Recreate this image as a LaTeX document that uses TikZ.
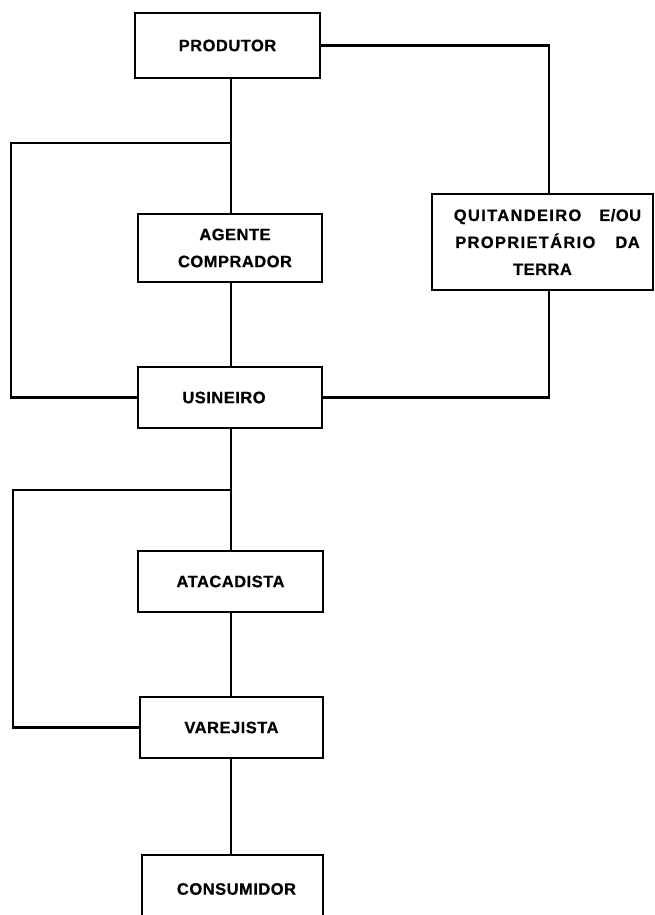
\documentclass[tikz,border=0pt]{standalone}
\usepackage{fontspec}
\setmainfont{Liberation Sans}[LetterSpace=3, BoldFeatures={FakeBold=0.6}]
\begin{document}
\begin{tikzpicture}[x=1pt,y=-1pt,
  box/.style={draw, line width=2.4pt, inner sep=0pt, align=center,
    font=\fontsize{16.5}{27}\selectfont\bfseries},
  link/.style={line width=2.4pt, line join=miter}]
\useasboundingbox (0,0) rectangle (655,915);

% boxes of the marketing chain
\node[box, minimum width=185pt, minimum height=65pt] (prod) at (227.5,45.5) {PRODUTOR};
\node[box, minimum width=184pt, minimum height=68pt] (agente) at (230,248) {\hspace*{10pt}AGENTE\\\hspace*{10pt}COMPRADOR};
\node[box, minimum width=221pt, minimum height=96pt] (quit) at (542.5,242)
  {\hspace*{10pt}{\addfontfeature{LetterSpace=8}QUITANDEIRO}\hspace{18pt}E/OU\\
   \hspace*{10pt}{\addfontfeature{LetterSpace=8}PROPRIETÁRIO}\hspace{20pt}DA\\TERRA};
\node[box, minimum width=184pt, minimum height=61pt] (usin) at (230,397.5) {USINEIRO\hspace*{12pt}};
\node[box, minimum width=185pt, minimum height=61pt] (atac) at (230.5,581.5) {ATACADISTA};
\node[box, minimum width=183pt, minimum height=61pt] (varej) at (231.5,727.5) {VAREJISTA};
\node[box, minimum width=181pt, minimum height=68pt] (cons) at (232.5,889) {\hspace*{8pt}CONSUMIDOR};

% reference columns and corners of the side loops
\coordinate (col) at (231,0);
\coordinate (qcol) at (549,0);
\coordinate (j1) at (231,143);
\coordinate (l1) at (11,143);
\coordinate (j2) at (231,490);
\coordinate (l2) at (13,490);

% upper part
\draw[link] (prod.south -| col) -- (agente.north -| col);
\draw[link] (agente.south -| col) -- (usin.north -| col);
\draw[link] (j1) -- (l1) |- (usin.west);
\draw[link] (prod.east) -| (quit.north -| qcol);
\draw[link] (quit.south -| qcol) |- (usin.east);

% lower part
\draw[link] (usin.south -| col) -- (atac.north -| col);
\draw[link] (j2) -- (l2) |- (varej.west);
\draw[link] (atac.south -| col) -- (varej.north -| col);
\draw[link] (varej.south -| col) -- (cons.north -| col);
\end{tikzpicture}
\end{document}
